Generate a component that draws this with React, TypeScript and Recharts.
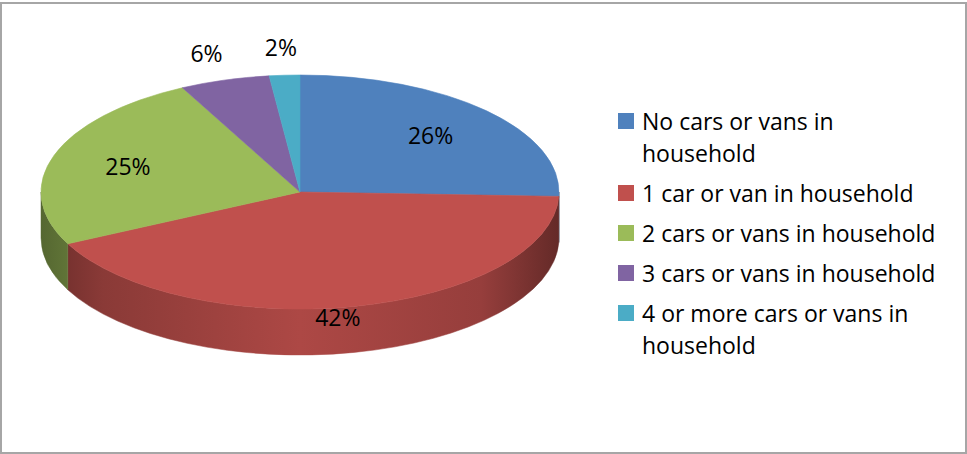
import React from 'react';
import { PieChart, Pie, Cell, Legend } from 'recharts';

const categories = [
  'No cars or vans in household',
  '1 car or van in household',
  '2 cars or vans in household',
  '3 cars or vans in household',
  '4 or more cars or vans in household',
];
const shares = [25.6, 42.1, 24.8, 5.6, 1.9];
const colors = ['#4F81BD', '#C0504D', '#9BBB59', '#8064A2', '#4BACC6'];

const data = categories.map((name, i) => ({ name, value: shares[i] }));

const RX = 259;
const RY = 117;
const DEPTH = 46;
const FONT = '"Open Sans", Lato, sans-serif';
const RAD = Math.PI / 180;

function shade(hex: string, f: number) {
  const n = parseInt(hex.slice(1), 16);
  const r = Math.round(((n >> 16) & 255) * f);
  const g = Math.round(((n >> 8) & 255) * f);
  const b = Math.round((n & 255) * f);
  return `rgb(${r},${g},${b})`;
}

const EllipseSector = (props: any) => {
  const { cx, cy, startAngle, endAngle, fill, outerRadius } = props;
  const rx = outerRadius;
  const ry = (rx * RY) / RX;
  const p = (a: number, d = 0) => [cx + rx * Math.cos(a * RAD), cy - ry * Math.sin(a * RAD) + d];
  const s = Math.max(startAngle, endAngle);
  const e = Math.min(startAngle, endAngle);
  const large = s - e > 180 ? 1 : 0;
  const [x1, y1] = p(s);
  const [x2, y2] = p(e);
  const top = `M${cx},${cy} L${x1},${y1} A${rx},${ry} 0 ${large} 1 ${x2},${y2} Z`;
  const hi = Math.min(s, 0);
  const lo = Math.max(e, -180);
  const gid = 'side' + String(fill).replace(/[^a-zA-Z0-9]/g, '');
  let wall = null;
  if (lo < hi) {
    const [a1, b1] = p(hi);
    const [a2, b2] = p(lo);
    const [a3, b3] = p(lo, DEPTH);
    const [a4, b4] = p(hi, DEPTH);
    const d = `M${a1},${b1} A${rx},${ry} 0 0 1 ${a2},${b2} L${a3},${b3} A${rx},${ry} 0 0 0 ${a4},${b4} Z`;
    wall = (
      <>
        <defs>
          <linearGradient id={gid} gradientUnits="userSpaceOnUse" x1={cx - rx} y1={0} x2={cx + rx} y2={0}>
            <stop offset="0" stopColor={shade(fill, 0.55)} />
            <stop offset="0.12" stopColor={shade(fill, 0.72)} />
            <stop offset="0.5" stopColor={shade(fill, 0.9)} />
            <stop offset="0.85" stopColor={shade(fill, 0.78)} />
            <stop offset="1" stopColor={shade(fill, 0.52)} />
          </linearGradient>
        </defs>
        <path d={d} fill={`url(#${gid})`} stroke={`url(#${gid})`} strokeWidth={0.5} />
      </>
    );
  }
  return (
    <g>
      {wall}
      <path d={top} fill={fill} stroke={fill} strokeWidth={0.6} />
    </g>
  );
};

const renderLabel = (pr: any) => {
  const { cx, cy, midAngle, percent, outerRadius } = pr;
  const rx = outerRadius;
  const ry = (rx * RY) / RX;
  const f = percent < 0.1 ? 1.24 : 0.7;
  const sn = Math.sin(midAngle * RAD);
  const x = cx + f * rx * Math.cos(midAngle * RAD);
  let y = cy - f * ry * sn;
  if (percent >= 0.1 && sn < 0) y += DEPTH * -sn;
  return (
    <text x={x} y={y} textAnchor="middle" dominantBaseline="central" fill="#000" fontSize={23} fontFamily={FONT}>
      {Math.round(percent * 100)}%
    </text>
  );
};

const renderLegend = () => (
  <div style={{ fontFamily: FONT, fontSize: 23, color: '#000' }}>
    {categories.map((name, i) => (
      <div key={name} style={{ display: 'flex', marginBottom: 8, lineHeight: '32px' }}>
        <div style={{ width: 16, height: 16, background: colors[i], marginTop: 8, marginRight: 8, flex: 'none' }} />
        <div style={{ width: 298 }}>{name}</div>
      </div>
    ))}
  </div>
);

export default function App() {
  return (
    <div style={{ position: 'absolute', left: 0, top: 0, width: 967, height: 454, background: '#fff' }}>
      <div
        style={{
          position: 'absolute',
          left: 0,
          top: 2,
          width: 967,
          height: 452,
          border: '2px solid #a6a6a6',
          boxSizing: 'border-box',
        }}
      />
      <div style={{ position: 'absolute', left: 0, top: 0 }}>
        <PieChart width={967} height={454} margin={{ top: 0, right: 0, bottom: 0, left: 0 }}>
          <Pie
            data={data}
            dataKey="value"
            nameKey="name"
            cx={300}
            cy={192}
            outerRadius={RX}
            startAngle={90}
            endAngle={-270}
            isAnimationActive={false}
            stroke="none"
            labelLine={false}
            label={renderLabel}
            shape={EllipseSector}
            activeShape={EllipseSector}
            inactiveShape={EllipseSector}
          >
            {data.map((d, i) => (
              <Cell key={d.name} fill={colors[i]} />
            ))}
          </Pie>
          <Legend
            layout="vertical"
            align="right"
            verticalAlign="top"
            content={renderLegend}
            wrapperStyle={{ left: 618, top: 105, width: 340 }}
          />
        </PieChart>
      </div>
    </div>
  );
}
